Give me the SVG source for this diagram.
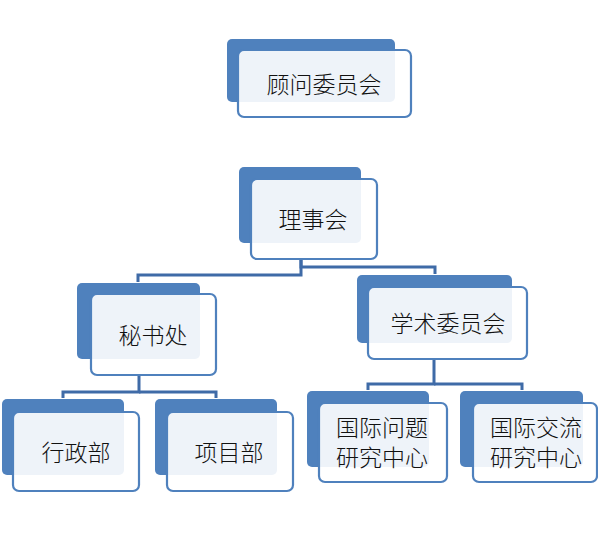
<svg xmlns="http://www.w3.org/2000/svg" width="598" height="542" viewBox="0 0 598 542">
<style>
.back{fill:#4F81BD}
.front{fill:#FFFFFF;fill-opacity:0.9;stroke:#4F81BD;stroke-width:2.2}
.lbl{font-family:"Noto Sans CJK SC","Noto Sans CJK JP",sans-serif;font-size:23px;font-weight:300;fill:#111;text-anchor:middle;dominant-baseline:central}
.conn{fill:none;stroke:#3F6BA7;stroke-width:3}
</style>
<rect width="598" height="542" fill="#FFFFFF"/>
<g id="connectors">
<polyline class="conn" points="301,259 301,267 435,267 435,274"/>
<polyline class="conn" points="301,259 301,275 138,275 138,282"/>
<polyline class="conn" points="139,375 139,392 63,392 63,398"/>
<polyline class="conn" points="139,392 216,392 216,398"/>
<polyline class="conn" points="434,359 434,384 368,384 368,390"/>
<polyline class="conn" points="434,384 522,384 522,390"/>
</g>
<g id="n-advisory">
<rect class="back" x="227" y="39" width="168" height="63" rx="5"/>
<rect class="front" x="238" y="50" width="173" height="67" rx="6"/>
<text class="lbl" x="324" y="83">顾问委员会</text>
</g>
<g id="n-council">
<rect class="back" x="239" y="167" width="122" height="76" rx="5"/>
<rect class="front" x="251" y="179" width="126" height="80" rx="6"/>
<text class="lbl" x="313" y="218">理事会</text>
</g>
<g id="n-secretariat">
<rect class="back" x="77" y="283" width="123" height="76" rx="5"/>
<rect class="front" x="91" y="294" width="125" height="81" rx="6"/>
<text class="lbl" x="153" y="334">秘书处</text>
</g>
<g id="n-academic">
<rect class="back" x="357" y="275" width="155" height="68" rx="5"/>
<rect class="front" x="368" y="287" width="159" height="72" rx="6"/>
<text class="lbl" x="448" y="322">学术委员会</text>
</g>
<g id="n-admin">
<rect class="back" x="2" y="399" width="122" height="76" rx="5"/>
<rect class="front" x="13" y="412" width="126" height="79" rx="6"/>
<text class="lbl" x="76" y="451">行政部</text>
</g>
<g id="n-project">
<rect class="back" x="155" y="399" width="122" height="76" rx="5"/>
<rect class="front" x="167" y="412" width="126" height="79" rx="6"/>
<text class="lbl" x="229" y="451">项目部</text>
</g>
<g id="n-intl-issues">
<rect class="back" x="307" y="391" width="122" height="76" rx="5"/>
<rect class="front" x="319" y="403" width="128" height="79" rx="6"/>
<text class="lbl" x="382" y="426">国际问题</text>
<text class="lbl" x="382" y="456">研究中心</text>
</g>
<g id="n-intl-exchange">
<rect class="back" x="460" y="391" width="123" height="76" rx="5"/>
<rect class="front" x="473" y="403" width="124" height="79" rx="6"/>
<text class="lbl" x="536" y="426">国际交流</text>
<text class="lbl" x="536" y="456">研究中心</text>
</g>
</svg>
